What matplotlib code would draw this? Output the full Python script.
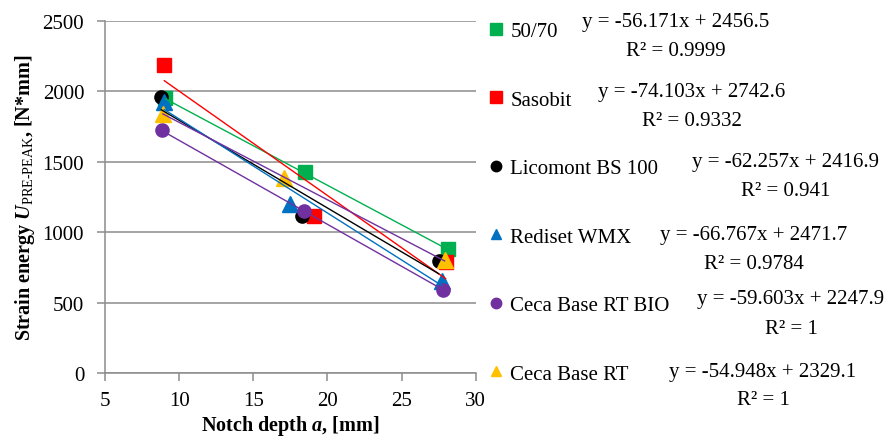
import matplotlib.pyplot as plt
import numpy as np
from matplotlib.lines import Line2D

plt.rcParams['font.family'] = ['Liberation Serif', 'DejaVu Serif']
plt.rcParams['mathtext.fontset'] = 'custom'
plt.rcParams['mathtext.rm'] = 'Liberation Serif'
plt.rcParams['mathtext.it'] = 'Liberation Serif:italic:bold'
plt.rcParams['mathtext.bf'] = 'Liberation Serif:bold'

# mixtures and measured points (notch depth, strain energy)
names = ["50/70", "Sasobit", "Licomont BS 100", "Rediset WMX",
         "Ceca Base RT BIO", "Ceca Base RT"]
x_vals = [[9.05, 18.5, 28.15],
          [9.0, 19.1, 27.97],
          [8.8, 18.25, 27.5],
          [9.0, 17.45, 27.7],
          [8.85, 18.4, 27.8],
          [8.9, 17.05, 27.9]]
y_vals = [[1951, 1424, 883],
          [2184, 1116, 788],
          [1957, 1116, 793],
          [1928, 1199, 657],
          [1726, 1149, 593],
          [1838, 1382, 800]]
slopes = [-56.171, -74.103, -62.257, -66.767, -59.603, -54.948]
intercepts = [2456.5, 2742.6, 2416.9, 2471.7, 2247.9, 2329.1]
r2_text = ["0.9999", "0.9332", "0.941", "0.9784", "1", "1"]

colors = ['#00B050', '#FF0000', '#000000', '#0070C0', '#7030A0', '#FFC000']
# Excel drew the Ceca Base RT trendline in purple
line_colors = ['#00B050', '#FF0000', '#000000', '#0070C0', '#7030A0', '#7030A0']
markers = ['s', 's', 'o', '^', 'o', '^']
msizes = [10.5, 10.5, 9.5, 11, 9.5, 11]

fig = plt.figure(figsize=(8.86, 4.39), dpi=100)
ax = fig.add_axes([0.1185, 0.148, 0.4185, 0.802])

grid_c = '#8c8c8c'
handles = []
for i, name in enumerate(names):
    xs = np.array(x_vals[i])
    ax.plot(xs, y_vals[i], linestyle='none', marker=markers[i], ms=msizes[i],
            color=colors[i], zorder=3)
    xl = np.array([xs.min(), xs.max()])
    ax.plot(xl, slopes[i] * xl + intercepts[i], color=line_colors[i], lw=1.0, zorder=4)
    handles.append(Line2D([], [], linestyle='none', marker=markers[i],
                          ms=8 if markers[i] == 's' else 7.5, color=colors[i], label=name))

ax.set_xlim(5, 30)
ax.set_ylim(0, 2500)
ax.set_xticks([5, 10, 15, 20, 25, 30])
ax.set_yticks([0, 500, 1000, 1500, 2000, 2500])
ax.yaxis.grid(True, color=grid_c, lw=1.1)
ax.set_axisbelow(True)
for s in ['top', 'right']:
    ax.spines[s].set_visible(False)
for s in ['left', 'bottom']:
    ax.spines[s].set_color(grid_c)
    ax.spines[s].set_linewidth(1.1)
ax.tick_params(axis='both', colors=grid_c, labelcolor='black', labelsize=15,
               length=6, width=1.1, direction='out')
ax.tick_params(axis='x', pad=7)
ax.tick_params(axis='y', pad=9)

ax.set_xlabel(r'Notch depth $\mathit{a}$, [mm]', fontsize=14.5, fontweight='bold', labelpad=2)
ax.set_ylabel('Strain energy $\\mathit{U}_{\\mathrm{PRE\u2010PEAK}}$, [N*mm]',
              fontsize=14.5, fontweight='bold', labelpad=4)

leg = fig.legend(handles=handles, loc='upper left', bbox_to_anchor=(0.543, 0.968),
                 frameon=False, fontsize=15, labelspacing=2.35, handlelength=0.6,
                 handletextpad=0.4, borderaxespad=0)

# trendline equations, placed beside the legend entries
eq_x = [676, 692, 786, 754, 791, 763]
eq_y = [22, 93, 163, 236, 300, 372]
for i in range(len(names)):
    sign = '+' if intercepts[i] >= 0 else '-'
    fig.text(eq_x[i] / 886, 1 - eq_y[i] / 439,
             f"y = {slopes[i]}x {sign} {abs(intercepts[i])}",
             ha='center', va='center', fontsize=15)
    fig.text(eq_x[i] / 886, 1 - (eq_y[i] + 29) / 439,
             f"R² = {r2_text[i]}", ha='center', va='center', fontsize=15)

fig.savefig('out.png', dpi=100)
